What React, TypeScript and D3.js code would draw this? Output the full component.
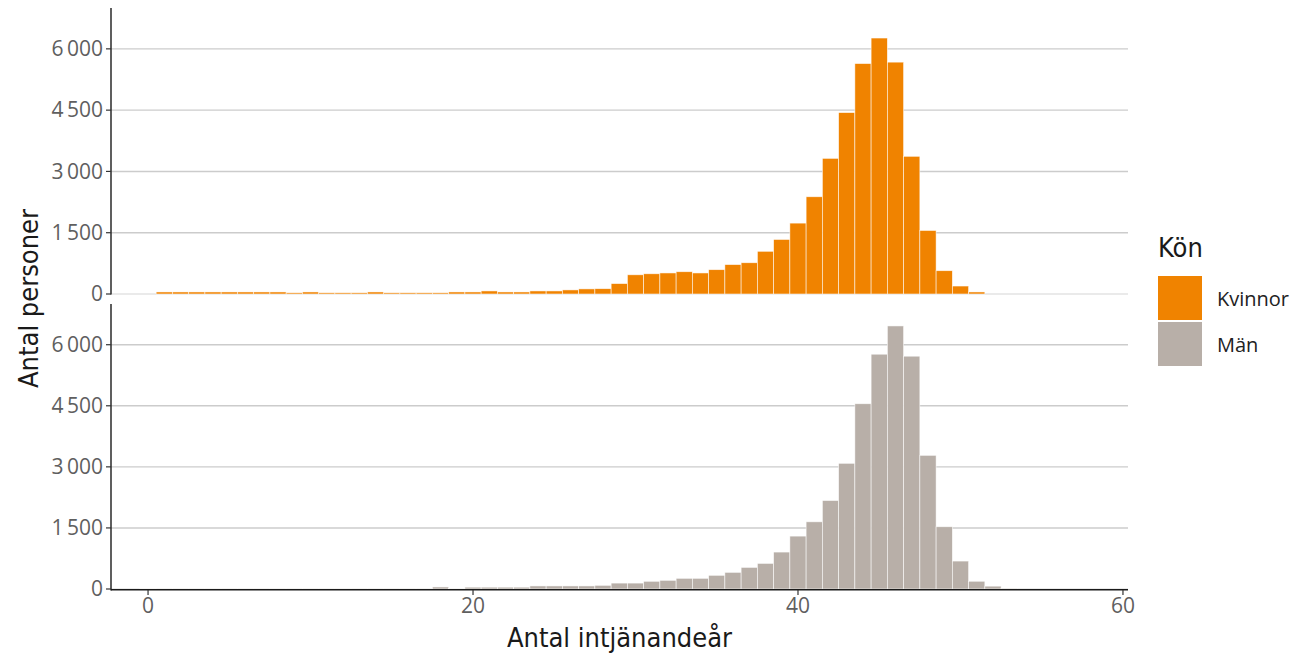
import React from "react";
import * as d3 from "d3";

const years: number[] = d3.range(0, 54);

const kvinnor: number[] = [
  0, 50, 50, 50, 50, 50, 50, 50, 50, 30,
  50, 30, 30, 30, 50, 30, 30, 30, 30, 50,
  50, 75, 50, 50, 75, 75, 100, 125, 130, 255,
  470, 495, 515, 545, 515, 595, 720, 765, 1045, 1335,
  1735, 2380, 3320, 4440, 5640, 6265, 5675, 3370, 1555, 570,
  195, 50, 0, 0,
];

const man: number[] = [
  10, 15, 15, 15, 15, 15, 15, 15, 15, 15,
  15, 15, 15, 15, 15, 15, 15, 15, 50, 10,
  45, 45, 45, 45, 75, 75, 75, 75, 90, 145,
  145, 189, 213, 262, 262, 336, 409, 531, 629, 907,
  1299, 1650, 2173, 3087, 4550, 5767, 6461, 5718, 3283, 1529,
  686, 190, 70, 20,
];

const yTicks: number[] = [0, 1500, 3000, 4500, 6000];
const xTicks: number[] = [0, 20, 40, 60];
const seriesNames: string[] = ["Kvinnor", "Män"];
const colors: string[] = ["#F08300", "#B8AFA8"];

const W = 1304;
const H = 658;
const left = 111;
const right = 1128;

const fmt = (v: number) => d3.format(",")(v).replace(/,/g, "\u2009");

export default function App() {
  const x = d3.scaleLinear().domain([-2.28, 60.31]).range([left, right]);
  const panels = [
    { data: kvinnor, y: d3.scaleLinear().domain([0, 7000]).range([294, 8]), color: colors[0], top: 8, bottom: 294.5 },
    { data: man, y: d3.scaleLinear().domain([0, 7000]).range([589, 304]), color: colors[1], top: 304, bottom: 589.5 },
  ];
  const tickFont = "'Open Sans', 'DejaVu Sans', sans-serif";
  const titleFont = "'Liberation Sans Narrow', 'DejaVu Sans Condensed', 'Open Sans', sans-serif";

  return (
    <svg width={W} height={H} style={{ position: "absolute", left: 0, top: 0, background: "#fff" }}>
      {panels.map((p, pi) => (
        <g key={pi}>
          {yTicks.map((t) => (
            <line key={t} x1={left} x2={right} y1={p.y(t)} y2={p.y(t)}
              stroke={t === 0 ? "#e3e3e3" : "#cccccc"} strokeWidth={1.4} />
          ))}
          {years.map((yr, i) =>
            p.data[i] > 0 ? (
              <rect key={yr} x={x(yr - 0.5)} width={x(yr + 0.5) - x(yr - 0.5)}
                y={p.y(p.data[i])} height={p.y(0) - p.y(p.data[i])}
                fill={p.color} stroke="#ffffff" strokeOpacity={0.75} strokeWidth={0.7} />
            ) : null
          )}
          <line x1={left} x2={left} y1={p.top} y2={p.bottom + (pi === 1 ? 1 : 0)} stroke="#1a1a1a" strokeWidth={1.4} />
          {yTicks.map((t) => (
            <g key={t}>
              <line x1={left - 5} x2={left} y1={p.y(t)} y2={p.y(t)} stroke="#333" strokeWidth={1.2} />
              <text x={left - 8} y={p.y(t)} dy="0.35em" textAnchor="end" fontFamily={tickFont}
                fontSize={21} fill="#5f5f5f">{fmt(t)}</text>
            </g>
          ))}
        </g>
      ))}
      <line x1={left} x2={right} y1={589.8} y2={589.8} stroke="#1a1a1a" strokeWidth={1.4} />
      {xTicks.map((t) => (
        <g key={t}>
          <line x1={x(t)} x2={x(t)} y1={590} y2={595} stroke="#333" strokeWidth={1.2} />
          <text x={x(t)} y={606} dy="0.35em" textAnchor="middle" fontFamily={tickFont}
            fontSize={21} fill="#5f5f5f">{t}</text>
        </g>
      ))}
      <text x={(left + right) / 2} y={638} dy="0.35em" textAnchor="middle" fontFamily={titleFont}
        fontSize={27} fill="#1a1a1a">Antal intjänandeår</text>
      <text transform={`translate(29,${(8 + 589) / 2}) rotate(-90)`} dy="0.35em" textAnchor="middle"
        fontFamily={titleFont} fontSize={27} fill="#1a1a1a">Antal personer</text>
      <text x={1158} y={248} dy="0.35em" fontFamily={titleFont} fontSize={27} fill="#1a1a1a">Kön</text>
      {seriesNames.map((n, i) => (
        <g key={n}>
          <rect x={1158} y={276 + i * 46} width={44} height={44} fill={colors[i]} />
          <text x={1217} y={299 + i * 46} dy="0.35em" fontFamily={tickFont} fontSize={20} fill="#222">{n}</text>
        </g>
      ))}
    </svg>
  );
}
